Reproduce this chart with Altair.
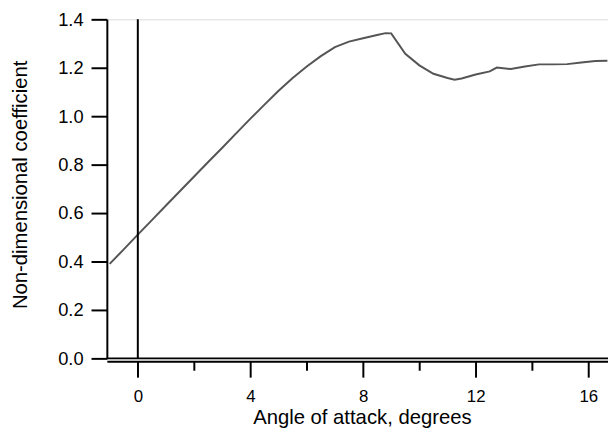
import altair as alt
import pandas as pd

aoa = [-1.0, -0.5, 0.0, 0.5, 1.0, 1.5, 2.0, 2.5, 3.0, 3.5, 4.0, 4.5, 5.0, 5.5,
       6.0, 6.5, 7.0, 7.5, 8.0, 8.5, 8.8, 9.0, 9.5, 10.0, 10.5, 11.0, 11.25,
       11.5, 12.0, 12.5, 12.75, 13.25, 13.75, 14.25, 14.75, 15.25, 15.75,
       16.25, 16.68]
coef = [0.39, 0.45, 0.511, 0.571, 0.631, 0.691, 0.751, 0.811, 0.870, 0.930,
        0.990, 1.048, 1.105, 1.158, 1.205, 1.248, 1.285, 1.308, 1.322, 1.335,
        1.343, 1.342, 1.258, 1.21, 1.175, 1.158, 1.151, 1.156, 1.172, 1.185,
        1.201, 1.195, 1.205, 1.214, 1.214, 1.215, 1.222, 1.228, 1.229]
x_major = [0, 4, 8, 12, 16]
x_minor = [2, 6, 10, 14]
y_ticks = [0.0, 0.2, 0.4, 0.6, 0.8, 1.0, 1.2, 1.4]

df = pd.DataFrame({"aoa": aoa, "coef": coef})
zero_h = pd.DataFrame({"y": [0.0]})
zero_v = pd.DataFrame({"x": [0.0], "y": [0.0], "y2": [1.4]})

FONT = "Liberation Sans"

xscale = alt.Scale(domain=[-1.1, 16.7], nice=False, zero=False)
yscale = alt.Scale(domain=[0, 1.4], nice=False)

line = alt.Chart(df).mark_line(color="#555555", strokeWidth=2, clip=True).encode(
    x=alt.X("aoa:Q", scale=xscale, axis=alt.Axis(
        orient="bottom",
        values=x_major,
        title="Angle of attack, degrees",
        tickSize=16,
        offset=3,
        grid=False,
        domainColor="black", domainWidth=2,
        tickColor="black", tickWidth=2,
        labelFont=FONT, labelFontSize=17, labelColor="black", labelPadding=12,
        titleFont=FONT, titleFontSize=20.5, titleFontWeight="normal", titleColor="black",
        titleX=258, titleY=63, titleBaseline="alphabetic", titleAlign="center",
    )),
    y=alt.Y("coef:Q", scale=yscale, axis=alt.Axis(
        values=y_ticks,
        format=".1f",
        title="Non-dimensional coefficient",
        tickSize=16,
        grid=False,
        domainColor="black", domainWidth=2,
        tickColor="black", tickWidth=2,
        labelFont=FONT, labelFontSize=18.5, labelColor="black", labelPadding=8,
        titleFont=FONT, titleFontSize=20.5, titleFontWeight="normal", titleColor="black",
        titleX=-81, titleY=167, titleBaseline="alphabetic", titleAlign="center",
        titleAngle=270,
    )),
)

hrule = alt.Chart(zero_h).transform_calculate(xx="-1.1", xx2="16.7").mark_rule(
    color="black", strokeWidth=2
).encode(
    x=alt.X("xx:Q", scale=xscale, axis=alt.Axis(
        orient="bottom",
        values=x_minor, tickSize=9, offset=3, labels=False, domain=False,
        title=None, grid=False, tickColor="black", tickWidth=2,
    )),
    x2="xx2:Q",
    y=alt.Y("y:Q", scale=yscale),
)

vrule = alt.Chart(zero_v).mark_rule(color="black", strokeWidth=2).encode(
    x=alt.X("x:Q", scale=xscale, axis=None),
    y=alt.Y("y:Q", scale=yscale),
    y2="y2:Q",
)

chart = alt.layer(line, hrule, vrule).resolve_axis(x="independent").properties(
    width=507,
    height=343,
    padding={"left": 100, "top": 9, "right": 0, "bottom": 70},
    autosize=alt.AutoSizeParams(type="none"),
).configure_view(stroke="transparent").configure(background="white")

chart.save("out.html", embed_options={"renderer": "svg", "actions": False})
